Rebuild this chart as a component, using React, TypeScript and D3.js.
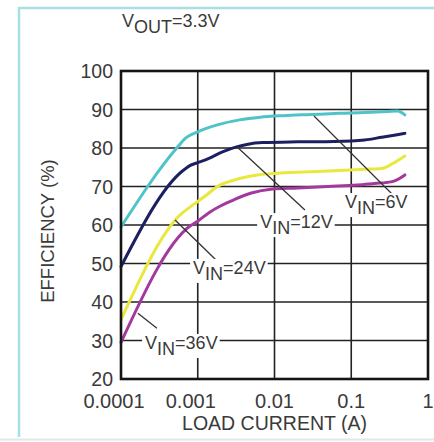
import * as d3 from "d3";
import React, { useEffect, useRef } from "react";

// axis ticks
const xTicks = [0.0001, 0.001, 0.01, 0.1, 1];
const yTicks = [20, 30, 40, 50, 60, 70, 80, 90, 100];

// efficiency curves (load current in A, efficiency in %)
const current6 = [0.0001, 0.00055, 0.0007, 0.001, 0.0018, 0.0035, 0.0065, 0.013, 0.03, 0.07, 0.15, 0.3, 0.4, 0.5];
const eff6 = [59.5, 80.3, 82.6, 84.2, 86, 87.3, 88, 88.4, 88.7, 89, 89.2, 89.5, 89.6, 88.6];

const current12 = [0.0001, 0.00062, 0.0008, 0.001, 0.0014, 0.0021, 0.0032, 0.0045, 0.007, 0.02, 0.06, 0.15, 0.25, 0.38, 0.5];
const eff12 = [49.2, 73.9, 75.5, 76.2, 77.3, 79, 80.3, 81, 81.4, 81.6, 81.7, 82.1, 82.8, 83.4, 83.8];

const current24 = [0.0001, 0.00062, 0.00075, 0.001, 0.0013, 0.0018, 0.003, 0.006, 0.01, 0.02, 0.06, 0.15, 0.25, 0.35, 0.5];
const eff24 = [35.4, 63, 64.3, 66.1, 67.8, 70, 71.7, 73, 73.4, 73.7, 74.1, 74.5, 74.7, 76, 77.9];

const current36 = [0.0001, 0.0008, 0.001, 0.0014, 0.002, 0.003, 0.005, 0.009, 0.02, 0.05, 0.12, 0.2, 0.33, 0.4, 0.5];
const eff36 = [29.5, 59.8, 61, 63.2, 65, 66.6, 68.3, 69.3, 69.6, 70, 70.4, 70.8, 71.2, 71.8, 73];

const seriesColors = ["#4fc3ca", "#1d2060", "#e9e83e", "#a3389d"];

// VIN annotations (text anchor + leader line, in data units)
const vinLabels = ["6V", "12V", "24V", "36V"];
const labelCurrent = [0.083, 0.0065, 0.00087, 0.000206];
const labelEff = [64.4, 59.2, 47.3, 27.8];
const leaderFromCurrent = [0.0327, 0.00324, 0.000506, 0.000166];
const leaderFromEff = [88.3, 80.3, 61.3, 37.1];
const leaderToCurrent = [0.35, 0.0249, 0.00184, 0.000294];
const leaderToEff = [67.8, 63.9, 50.4, 33.2];

const FONT = "'Liberation Sans', Arial, sans-serif";
const TEXT = "#3a3a3a";

export default function App() {
  const svgRef = useRef<SVGSVGElement>(null);

  useEffect(() => {
    const svg = d3.select(svgRef.current);
    svg.selectAll("*").remove();

    const W = 434, H = 442;
    const left = 121, right = 428, top = 71, bottom = 379;

    const x = d3.scaleLog().domain([0.0001, 1]).range([left, right]);
    const y = d3.scaleLinear().domain([20, 100]).range([bottom, top]);

    svg.append("rect").attr("width", W).attr("height", H).attr("fill", "#fff");

    // frame of the figure
    svg.append("line").attr("x1", 19).attr("x2", W).attr("y1", 8).attr("y2", 8)
      .attr("stroke", "#a8e0e1").attr("stroke-width", 2.5);
    svg.append("line").attr("x1", 19).attr("x2", 19).attr("y1", 7).attr("y2", 437)
      .attr("stroke", "#a8e0e1").attr("stroke-width", 2.5);
    svg.append("line").attr("x1", 0).attr("x2", W).attr("y1", 439.5).attr("y2", 439.5)
      .attr("stroke", "#e6e6e6").attr("stroke-width", 2);

    // grid
    const grid = svg.append("g").attr("stroke", "#222").attr("stroke-width", 1.6);
    grid.selectAll(".v").data(xTicks.slice(1, -1)).enter().append("line")
      .attr("x1", (d) => x(d)).attr("x2", (d) => x(d))
      .attr("y1", top).attr("y2", bottom);
    grid.selectAll(".h").data(yTicks.slice(1, -1)).enter().append("line")
      .attr("x1", left).attr("x2", right)
      .attr("y1", (d) => y(d)).attr("y2", (d) => y(d));

    // curves
    const line = d3.line<[number, number]>()
      .x((d) => x(d[0]))
      .y((d) => y(d[1]))
      .curve(d3.curveMonotoneX);
    const series = [
      d3.zip(current6, eff6),
      d3.zip(current12, eff12),
      d3.zip(current24, eff24),
      d3.zip(current36, eff36),
    ] as [number, number][][];
    series.forEach((s, i) => {
      svg.append("path").attr("d", line(s)).attr("fill", "none")
        .attr("stroke", seriesColors[i]).attr("stroke-width", 3)
        .attr("stroke-linejoin", "round").attr("stroke-linecap", "round");
    });

    // leader lines
    vinLabels.forEach((_, i) => {
      svg.append("line")
        .attr("x1", x(leaderFromCurrent[i])).attr("y1", y(leaderFromEff[i]))
        .attr("x2", x(leaderToCurrent[i])).attr("y2", y(leaderToEff[i]))
        .attr("stroke", "#333").attr("stroke-width", 1.3);
    });

    // VIN labels with white boxes that cut the grid
    vinLabels.forEach((lab, i) => {
      const g = svg.append("g");
      const t = g.append("text")
        .attr("x", x(labelCurrent[i])).attr("y", y(labelEff[i]))
        .style("font-family", FONT).style("font-size", "18px").attr("fill", TEXT);
      t.append("tspan").text("V");
      t.append("tspan").attr("dy", 6).text("IN");
      t.append("tspan").attr("dy", -6).text("=" + lab);
      const b = (t.node() as SVGTextElement).getBBox();
      g.insert("rect", "text")
        .attr("x", b.x - 3).attr("y", b.y + 1)
        .attr("width", b.width + 5).attr("height", b.height - 2)
        .attr("fill", "#fff");
    });

    // plot border
    svg.append("rect").attr("x", left).attr("y", top)
      .attr("width", right - left).attr("height", bottom - top)
      .attr("fill", "none").attr("stroke", "#151515").attr("stroke-width", 2.6);

    // y tick labels
    svg.append("g").selectAll("text").data(yTicks).enter().append("text")
      .attr("x", left - 8).attr("y", (d) => y(d))
      .attr("dy", "0.36em")
      .attr("text-anchor", "end")
      .style("font-family", FONT).style("font-size", "19.5px")
      .attr("fill", TEXT)
      .text((d) => d);

    // x tick labels
    svg.append("g").selectAll("text").data(xTicks).enter().append("text")
      .attr("x", (d) => x(d))
      .attr("dx", (d) => (String(d).length >= 5 ? -7 : 0))
      .attr("y", 408)
      .attr("text-anchor", "middle")
      .style("font-family", FONT).style("font-size", "20px")
      .attr("fill", TEXT)
      .text((d) => String(d));

    // axis titles
    svg.append("text")
      .attr("x", (left + right) / 2).attr("y", 430)
      .attr("text-anchor", "middle")
      .style("font-family", FONT).style("font-size", "19.5px")
      .attr("fill", TEXT)
      .text("LOAD CURRENT (A)");

    svg.append("text")
      .attr("transform", "translate(54,231) rotate(-90)")
      .attr("text-anchor", "middle")
      .style("font-family", FONT).style("font-size", "18.5px")
      .attr("fill", TEXT)
      .text("EFFICIENCY (%)");

    // VOUT title
    const title = svg.append("text")
      .attr("x", 122).attr("y", 27)
      .style("font-family", FONT).style("font-size", "18px")
      .attr("fill", TEXT);
    title.append("tspan").text("V");
    title.append("tspan").attr("dy", 6).text("OUT");
    title.append("tspan").attr("dy", -6).text("=3.3V");
  }, []);

  return (
    <svg
      ref={svgRef}
      width={434}
      height={442}
      style={{ position: "absolute", left: 0, top: 0, display: "block" }}
    />
  );
}
